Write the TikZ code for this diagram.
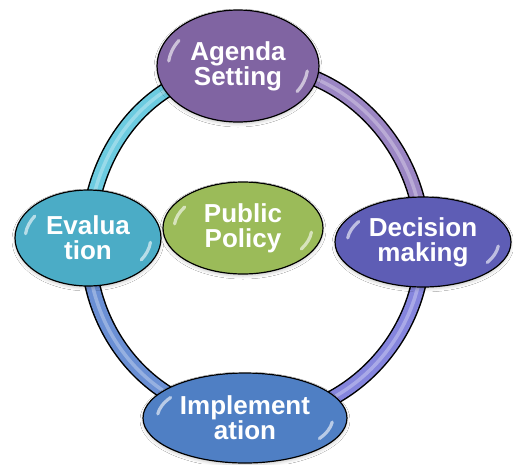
\documentclass[tikz,border=0pt]{standalone}
\usepackage{fontspec}
\setmainfont{Liberation Sans}
\usetikzlibrary{shapes.geometric,shadows.blur}

\pgfdeclarelayer{ring}
\pgfsetlayers{ring,main}

% stage colours
\definecolor{agendaC}{HTML}{8064A2}
\definecolor{decisionC}{HTML}{5E5DB5}
\definecolor{evalC}{HTML}{4BACC6}
\definecolor{implC}{HTML}{4F7FC4}
\definecolor{policyC}{HTML}{9BBB59}
% ring segment colours
\definecolor{ringA}{HTML}{9B86C4}
\definecolor{ringB}{HTML}{8585DD}
\definecolor{ringC}{HTML}{6A8FD4}
\definecolor{ringD}{HTML}{6CCBE0}

% flat centre with a slightly darker rim
\colorlet{gin}{white}
\colorlet{gout}{black}
\pgfdeclareradialshading[gin,gout]{glossy}{\pgfpoint{0bp}{0bp}}{%
  color(0bp)=(gin); color(30bp)=(gin); color(50bp)=(gout)}

\tikzset{
  blob/.style={ellipse, draw=black, line width=1.2pt, inner sep=0pt,
    align=center, text=white,
    font=\bfseries\fontsize{26}{25}\selectfont,
    /utils/exec={\colorlet{gin}{#1}\colorlet{gout}{#1!78!black}},
    shading=glossy,
    blur shadow={shadow xshift=0pt, shadow yshift=-2pt,
      shadow opacity=20, shadow blur radius=3pt}},
  band/.style={line width=13pt, draw=#1,
    preaction={draw=black, line width=16pt},
    postaction={draw=white, line width=3.5pt, opacity=.3}},
  glint/.style={draw=white, line width=3.2pt, line cap=round, opacity=.6},
}

% two white glints inside an ellipse node: #1 name, #2 x radius, #3 y radius
\newcommand\glints[3]{%
  \draw[glint] ([shift={(148:{0.86*#2} and {0.86*#3})}]#1.center)
    arc[start angle=148, end angle=174, x radius={0.86*#2}, y radius={0.86*#3}];
  \draw[glint] ([shift={(-32:{0.86*#2} and {0.86*#3})}]#1.center)
    arc[start angle=-32, end angle=-6, x radius={0.86*#2}, y radius={0.86*#3}];
}

\begin{document}
\begin{tikzpicture}[x=1pt,y=1pt]
  \useasboundingbox (0,0) rectangle (513,-464);

  \node[blob=agendaC, minimum width=162pt, minimum height=112pt]
    (agenda) at (238,-66) {Agenda\\Setting};
  \node[blob=decisionC, minimum width=176pt, minimum height=90pt]
    (decision) at (423,-242) {Decision\\making};
  \node[blob=evalC, minimum width=146pt, minimum height=96pt]
    (evaluation) at (88,-238) {Evalua\\tion};
  \node[blob=implC, minimum width=204pt, minimum height=90pt]
    (implementation) at (245,-418) {Implement\\ation};
  \node[blob=policyC, minimum width=160pt, minimum height=92pt]
    (policy) at (243,-228) {Public\\Policy};

  \glints{agenda}{81}{56}
  \glints{decision}{88}{45}
  \glints{evaluation}{73}{48}
  \glints{implementation}{102}{45}
  \glints{policy}{80}{46}

  % the cycle ring, drawn beneath the stages
  \begin{pgfonlayer}{ring}
    \fill[white] (0,0) rectangle (513,-464);
    \draw[band=ringA] (agenda.center) to[out=5, in=91] (decision.center);
    \draw[band=ringB] (decision.center) to[out=-89, in=-3] (implementation.center);
    \draw[band=ringC] (implementation.center) to[out=177, in=268] (evaluation.center);
    \draw[band=ringD] (evaluation.center) to[out=88, in=185] (agenda.center);
  \end{pgfonlayer}
\end{tikzpicture}
\end{document}
